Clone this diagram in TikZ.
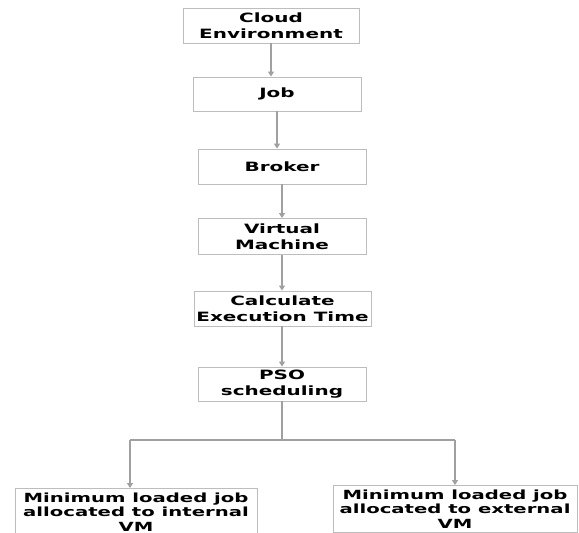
\documentclass[tikz,border=0pt]{standalone}
\usepackage{fontspec}
\usetikzlibrary{arrows.meta}
\newfontfamily\boxfont[FakeStretch=1.56]{DejaVu Sans}
\definecolor{linegray}{HTML}{A0A0A0}
\definecolor{boxgray}{HTML}{BDBDBD}
\tikzset{
  stepbox/.style={draw=boxgray, line width=0.9pt, fill=white, align=center,
    font=\boxfont\bfseries\fontsize{12.8}{15.5}\selectfont, inner sep=0pt},
  lowbox/.style={stepbox, anchor=north, inner ysep=4pt,
    font=\boxfont\bfseries\fontsize{12.6}{14.5}\selectfont},
  conn/.style={draw=linegray, line width=1.1pt},
  arr/.style={conn, -{Triangle[width=6pt,length=5pt]}, color=linegray}
}
\begin{document}
\begin{tikzpicture}[x=1pt,y=-1pt]
\useasboundingbox (0,0) rectangle (579,533);
\clip (0,0) rectangle (579,533);
\fill[white] (0,0) rectangle (579,533);
\node[stepbox, minimum width=176pt, minimum height=35pt] (b1) at (271,25.5) {Cloud\\Environment};
\node[stepbox, minimum width=168pt, minimum height=34pt] (b2) at (277,94) {Job};
\node[stepbox, minimum width=168pt, minimum height=35pt] (b3) at (282,166.5) {Broker};
\node[stepbox, minimum width=168pt, minimum height=36pt] (b4) at (282,236.5) {Virtual\\Machine};
\node[stepbox, minimum width=177pt, minimum height=35pt] (b5) at (282.5,308.5) {Calculate\\Execution Time};
\node[stepbox, minimum width=168pt, minimum height=34pt] (b6) at (282,384) {PSO\\scheduling};
\node[lowbox, minimum width=242pt] (b7) at (136,488) {Minimum loaded job\\allocated to internal\\VM};
\node[lowbox, minimum width=244pt] (b8) at (455,485) {Minimum loaded job\\allocated to external\\VM};
\draw[arr] (b1.south) -- (b1.south |- b2.north);
\draw[arr] (b2.south) -- (b2.south |- b3.north);
\draw[arr] (b3.south) -- (b3.south |- b4.north);
\draw[arr] (b4.south) -- (b4.south |- b5.north);
\draw[arr] (b5.south -| b6.south) -- (b6.north);
\coordinate (bl) at (130,440);
\coordinate (brr) at (455,440);
\draw[conn] (b6.south) -- (b6.south |- bl);
\draw[conn] (bl) -- (brr);
\draw[arr] (bl) -- (bl |- b7.north);
\draw[arr] (brr) -- (brr |- b8.north);
\end{tikzpicture}
\end{document}
